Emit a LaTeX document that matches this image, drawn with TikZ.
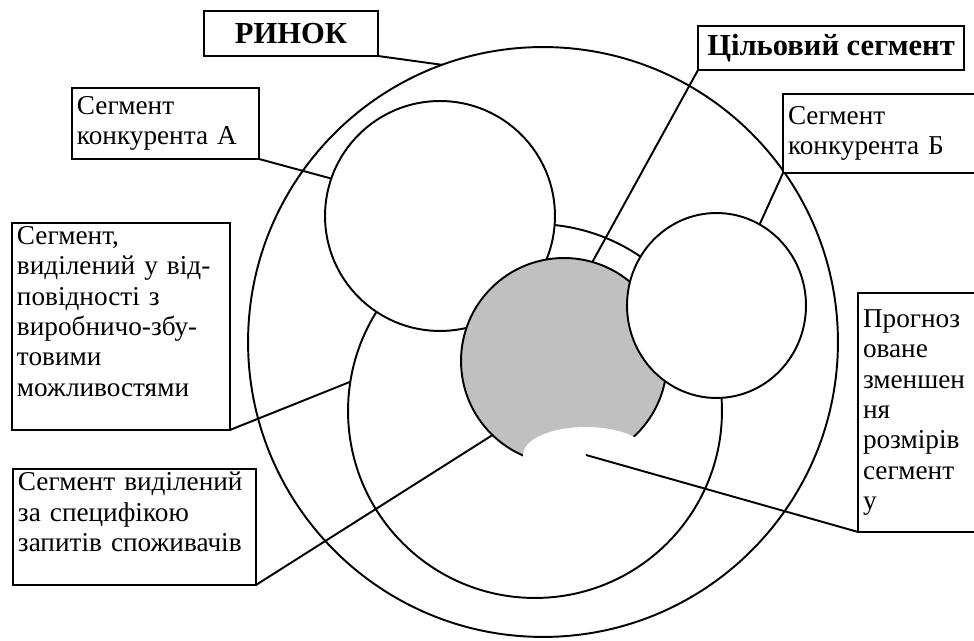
\documentclass[tikz,border=0pt]{standalone}
\usepackage{fontspec}
\setmainfont{Liberation Serif}
\usetikzlibrary{shapes.geometric}
\definecolor{targetgray}{RGB}{192,192,192}

\begin{document}
\begin{tikzpicture}[x=0.02cm,y=-0.02cm,
    every node/.style={font={\fontsize{15.5}{17.3}\selectfont}},
    ring/.style={circle,draw,line width=1.1pt,inner sep=0pt,outer sep=0pt},
    label box/.style={draw,line width=1.1pt,fill=white,inner xsep=0.1cm,
        inner ysep=0.05cm,outer sep=0pt,align=left,anchor=north west},
    title box/.style={draw,line width=1.1pt,fill=white,inner sep=0pt,outer sep=0pt,
        font={\bfseries\fontsize{17.4}{20}\selectfont}},
    pointer/.style={line width=1.1pt},
    ]
    \useasboundingbox (0,0) rectangle (974,641);

    % Market and segment circles
    \node[ring,minimum size=11.8cm] (market) at (543,342) {};
    \node[ring,minimum size=7.48cm] (capacity) at (535,411) {};
    \node[ring,fill=white,minimum size=4.6cm] (rivalA) at (440,216) {};
    \node[ring,fill=targetgray,minimum size=4.12cm] (target) at (564,361) {};
    \node[ring,ellipse,fill=white,minimum width=3.58cm,minimum height=3.7cm] (rivalB) at (716.5,305.5) {};

    % Cut-out of the target segment
    \node[ellipse,fill=white,inner sep=0pt,minimum width=2.52cm,minimum height=1.12cm] (shrink) at (586,455) {};

    % Titles
    \node[title box,minimum width=3.48cm,minimum height=0.9cm] (market box) at (291,33.5) {РИНОК};
    \node[title box,minimum width=5.32cm,minimum height=0.88cm] (target box) at (831,48) {Цільовий сегмент};

    % Labels
    \node[label box,text width=3.54cm,minimum height=1.42cm] (rivalA box) at (72,88)
        {Сегмент\\конкурента А};
    \node[label box,text width=3.9cm,minimum height=1.58cm] (rivalB box) at (783,94)
        {Сегмент\\конкурента Б};
    \node[label box,text width=4.16cm,minimum height=4.14cm] (capacity box) at (12,223)
        {Сегмент,\\виділений у від-\\повідності з\\виробничо-збу-\\товими\\можливостями\\\mbox{}};
    \node[label box,text width=4.66cm,minimum height=2.32cm] (demand box) at (13,469)
        {Сегмент виділений\\за специфікою\\запитів споживачів\\\mbox{}};
    \node[label box,text width=2.4cm,minimum height=4.78cm] (forecast box) at (858,293)
        {Прогноз\\оване\\зменшен\\ня\\розмірів\\сегмент\\у};

    % Pointers
    \draw[pointer] (market box.south east) -- (market.110.5);
    \draw[pointer] (rivalA box.south east) -- (rivalA.161.4);
    \draw[pointer] (target box.south west) -- (target.74.2);
    \draw[pointer] (rivalB box.south west) -- (rivalB.62);
    \draw[pointer] (capacity box.south east) -- (capacity.171);
    \draw[pointer] (demand box.south east) -- (target.226.2);
    \draw[pointer] (forecast box.south west) -- (shrink.center);

\end{tikzpicture}
\end{document}
